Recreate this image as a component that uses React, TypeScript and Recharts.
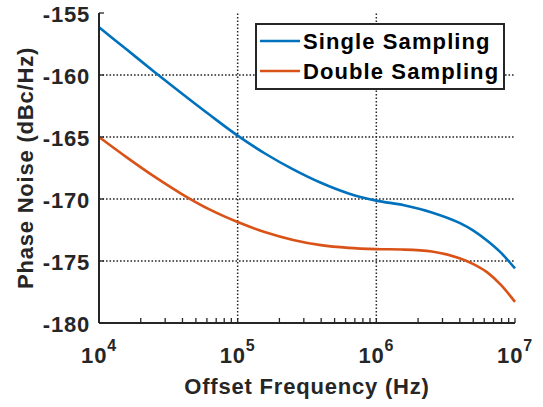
import { LineChart, Line, XAxis, YAxis, ReferenceLine, Legend, Label } from "recharts";

const FREQ_HZ = [
  1e4, 15850, 25120, 39810, 63100,
  1e5, 158500, 251200, 398100, 631000,
  1e6, 1585000, 2512000, 3981000, 5012000, 6310000, 7943000, 1e7,
];
const SINGLE_DBC = [
  -156.15, -157.95, -159.75, -161.51, -163.23,
  -164.89, -166.35, -167.61, -168.69, -169.55,
  -170.13, -170.5, -171.08, -171.93, -172.55, -173.37, -174.35, -175.6,
];
const DOUBLE_DBC = [
  -165.0, -166.64, -168.2, -169.62, -170.86,
  -171.86, -172.68, -173.3, -173.72, -173.94,
  -174.04, -174.08, -174.24, -174.78, -175.25, -175.92, -176.95, -178.3,
];

const SERIES_NAMES = ["Single Sampling", "Double Sampling"];
const SERIES_COLORS = ["#0072BD", "#D95319"];

const X_MAJOR = [1e4, 1e5, 1e6, 1e7];
const X_MINOR = [
  2e4, 3e4, 4e4, 5e4, 6e4, 7e4, 8e4, 9e4,
  2e5, 3e5, 4e5, 5e5, 6e5, 7e5, 8e5, 9e5,
  2e6, 3e6, 4e6, 5e6, 6e6, 7e6, 8e6, 9e6,
];
const Y_TICKS = [-180, -175, -170, -165, -160, -155];

const INK = "#262626";
const FONT = "'Liberation Sans', Arial, Helvetica, sans-serif";
const X_ALL = [...X_MAJOR, ...X_MINOR].sort((a, b) => a - b);

const rows = FREQ_HZ.map((f, i) => ({
  f,
  single: SINGLE_DBC[i],
  double: DOUBLE_DBC[i],
}));

const textStyle = {
  fill: INK,
  fontFamily: FONT,
  fontWeight: "bold" as const,
  fontSize: 22,
  letterSpacing: 0.8,
};

function FreqTick({ x, y, payload }: any) {
  const v = payload?.value;
  if (!X_MAJOR.includes(v)) return <g />;
  const exp = Math.round(Math.log10(v));
  return (
    <text x={x} y={y + 40} textAnchor="middle" {...textStyle}>
      <tspan>10</tspan>
      <tspan dy={-12} fontSize={16}>
        {exp}
      </tspan>
    </text>
  );
}

function DbTick({ x, y, payload }: any) {
  return (
    <text x={x} y={y + 1.5} textAnchor="end" dominantBaseline="central" {...textStyle}>
      {payload.value}
    </text>
  );
}

function XTitle({ viewBox }: any) {
  const cx = viewBox.x + viewBox.width / 2;
  return (
    <text x={cx} y={394} textAnchor="middle" {...textStyle}>
      Offset Frequency (Hz)
    </text>
  );
}

function YTitle({ viewBox }: any) {
  const cx = 33;
  const cy = viewBox.y + viewBox.height / 2;
  return (
    <text
      x={cx}
      y={cy}
      textAnchor="middle"
      transform={`rotate(-90 ${cx} ${cy})`}
      {...textStyle}
    >
      Phase Noise (dBc/Hz)
    </text>
  );
}

function LegendBox() {
  return (
    <svg width={250} height={67} style={{ display: "block" }}>
      <rect x={1} y={1} width={248} height={65} fill="#fff" stroke={INK} strokeWidth={2} />
      {SERIES_NAMES.map((name, i) => (
        <g key={name}>
          <line
            x1={5}
            x2={45}
            y1={18 + i * 30}
            y2={18 + i * 30}
            stroke={SERIES_COLORS[i]}
            strokeWidth={2.6}
          />
          <text
            x={48}
            y={18.5 + i * 30}
            dominantBaseline="central"
            {...textStyle}
            letterSpacing={1.1}
            fill="#000"
          >
            {name}
          </text>
        </g>
      ))}
    </svg>
  );
}

export default function App() {
  const axisLine = { stroke: INK, strokeWidth: 2 };
  const tickLine = { stroke: INK, strokeWidth: 1.3 };
  const grid = { stroke: INK, strokeWidth: 1.5, strokeDasharray: "1.6 1.9" };

  return (
    <div
      style={{
        position: "absolute",
        left: 0,
        top: 0,
        width: 543,
        height: 407,
        background: "#fff",
      }}
    >
      <LineChart
        width={543}
        height={407}
        data={rows}
        margin={{ top: 13, right: 28, bottom: 0, left: 0 }}
      >
        <XAxis
          xAxisId="f"
          dataKey="f"
          type="number"
          scale="log"
          domain={[1e4, 1e7]}
          ticks={X_ALL}
          interval={0}
          height={84}
          tickSize={-5}
          tickMargin={5}
          tick={<FreqTick />}
          axisLine={axisLine}
          tickLine={tickLine}
        >
          <Label content={<XTitle />} />
        </XAxis>
        <XAxis
          xAxisId="top"
          orientation="top"
          type="number"
          scale="log"
          domain={[1e4, 1e7]}
          ticks={X_ALL}
          interval={0}
          height={0}
          tickSize={-5}
          tick={() => <g />}
          axisLine={axisLine}
          tickLine={tickLine}
        />
        <YAxis
          yAxisId="db"
          type="number"
          domain={[-180, -155]}
          ticks={Y_TICKS}
          interval={0}
          width={99}
          tickSize={-5}
          tickMargin={14}
          tick={<DbTick />}
          axisLine={axisLine}
          tickLine={tickLine}
        >
          <Label content={<YTitle />} />
        </YAxis>
        <YAxis
          yAxisId="right"
          orientation="right"
          type="number"
          domain={[-180, -155]}
          ticks={Y_TICKS}
          interval={0}
          width={0}
          tickSize={-5}
          tick={() => <g />}
          axisLine={axisLine}
          tickLine={tickLine}
        />
        {X_MAJOR.slice(1, -1).map((v) => (
          <ReferenceLine key={`gx${v}`} xAxisId="f" yAxisId="db" x={v} {...grid} />
        ))}
        {Y_TICKS.slice(1, -1).map((v) => (
          <ReferenceLine key={`gy${v}`} xAxisId="f" yAxisId="db" y={v} {...grid} />
        ))}
        <Line
          xAxisId="f"
          yAxisId="db"
          type="monotone"
          dataKey="single"
          name={SERIES_NAMES[0]}
          stroke={SERIES_COLORS[0]}
          strokeWidth={2.6}
          dot={false}
          isAnimationActive={false}
        />
        <Line
          xAxisId="f"
          yAxisId="db"
          type="monotone"
          dataKey="double"
          name={SERIES_NAMES[1]}
          stroke={SERIES_COLORS[1]}
          strokeWidth={2.6}
          dot={false}
          isAnimationActive={false}
        />
        <Legend
          layout="vertical"
          align="center"
          verticalAlign="middle"
          content={<LegendBox />}
          wrapperStyle={{ left: 255, top: 23, width: 250, height: 67 }}
        />
      </LineChart>
    </div>
  );
}
